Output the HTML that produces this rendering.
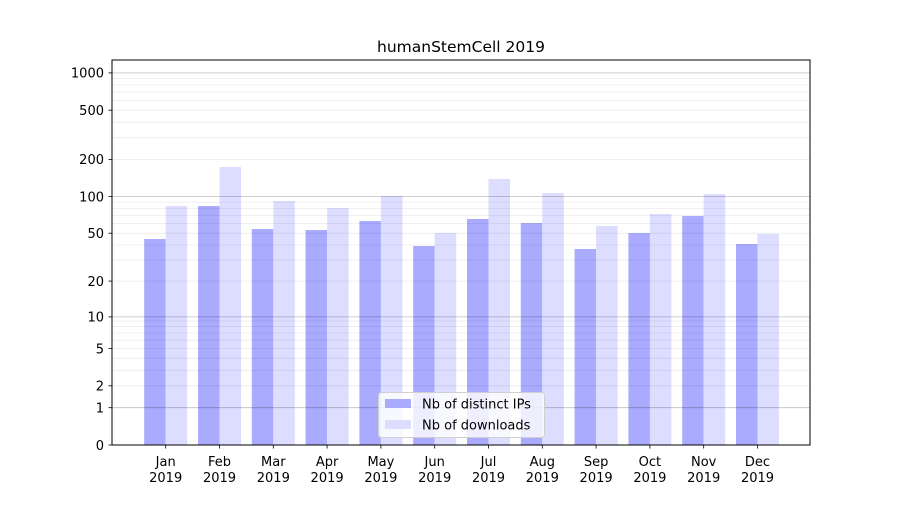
<!DOCTYPE html>
<html><head><meta charset="utf-8"><style>
body{margin:0;background:#fff}
text{font-family:"DejaVu Sans","Liberation Sans",sans-serif;font-size:13px;fill:#000}
</style></head><body>
<svg width="900" height="500" xmlns="http://www.w3.org/2000/svg">
<rect width="900" height="500" fill="#fff"/>
<g fill="#aaaaff">
<rect x="144.2" y="239" width="21.5" height="206"/>
<rect x="198" y="206" width="21.5" height="239"/>
<rect x="251.8" y="229" width="21.5" height="216"/>
<rect x="305.6" y="230" width="21.5" height="215"/>
<rect x="359.4" y="221" width="21.5" height="224"/>
<rect x="413.2" y="246" width="21.5" height="199"/>
<rect x="467" y="219" width="21.5" height="226"/>
<rect x="520.8" y="223" width="21.5" height="222"/>
<rect x="574.6" y="249" width="21.5" height="196"/>
<rect x="628.4" y="233" width="21.5" height="212"/>
<rect x="682.2" y="216" width="21.5" height="229"/>
<rect x="736" y="244" width="21.5" height="201"/>
</g>
<g fill="#ddddff">
<rect x="165.7" y="206" width="21.5" height="239"/>
<rect x="219.5" y="167" width="21.5" height="278"/>
<rect x="273.3" y="201" width="21.5" height="244"/>
<rect x="327.1" y="208" width="21.5" height="237"/>
<rect x="380.9" y="196" width="21.5" height="249"/>
<rect x="434.7" y="233" width="21.5" height="212"/>
<rect x="488.5" y="179" width="21.5" height="266"/>
<rect x="542.3" y="193" width="21.5" height="252"/>
<rect x="596.1" y="226" width="21.5" height="219"/>
<rect x="649.9" y="214" width="21.5" height="231"/>
<rect x="703.7" y="194" width="21.5" height="251"/>
<rect x="757.5" y="234" width="21.5" height="211"/>
</g>
<g stroke="#000" stroke-opacity="0.08" stroke-width="0.8">
<line x1="112" x2="810" y1="385.8" y2="385.8"/><line x1="112" x2="810" y1="370.3" y2="370.3"/><line x1="112" x2="810" y1="358.3" y2="358.3"/><line x1="112" x2="810" y1="348.5" y2="348.5"/><line x1="112" x2="810" y1="340.2" y2="340.2"/><line x1="112" x2="810" y1="333" y2="333"/><line x1="112" x2="810" y1="326.7" y2="326.7"/><line x1="112" x2="810" y1="321" y2="321"/>
<line x1="112" x2="810" y1="281.1" y2="281.1"/><line x1="112" x2="810" y1="260.1" y2="260.1"/><line x1="112" x2="810" y1="245" y2="245"/><line x1="112" x2="810" y1="233.2" y2="233.2"/><line x1="112" x2="810" y1="223.6" y2="223.6"/><line x1="112" x2="810" y1="215.4" y2="215.4"/><line x1="112" x2="810" y1="208.4" y2="208.4"/><line x1="112" x2="810" y1="202.1" y2="202.1"/>
<line x1="112" x2="810" y1="159.4" y2="159.4"/><line x1="112" x2="810" y1="137.7" y2="137.7"/><line x1="112" x2="810" y1="122.2" y2="122.2"/><line x1="112" x2="810" y1="110.2" y2="110.2"/><line x1="112" x2="810" y1="100.4" y2="100.4"/><line x1="112" x2="810" y1="92.1" y2="92.1"/><line x1="112" x2="810" y1="84.9" y2="84.9"/><line x1="112" x2="810" y1="78.6" y2="78.6"/>
</g>
<g stroke="#000" stroke-opacity="0.25" stroke-width="0.8">
<line x1="112" x2="810" y1="407.7" y2="407.7"/><line x1="112" x2="810" y1="316.9" y2="316.9"/><line x1="112" x2="810" y1="196.5" y2="196.5"/><line x1="112" x2="810" y1="72.9" y2="72.9"/>
</g>
<rect x="112" y="60" width="698" height="385" fill="none" stroke="#000" stroke-width="1"/>
<g stroke="#000" stroke-width="0.8">
<line x1="108.5" x2="112" y1="445" y2="445"/><line x1="108.5" x2="112" y1="407.7" y2="407.7"/><line x1="108.5" x2="112" y1="385.8" y2="385.8"/><line x1="108.5" x2="112" y1="348.5" y2="348.5"/><line x1="108.5" x2="112" y1="316.9" y2="316.9"/><line x1="108.5" x2="112" y1="281.1" y2="281.1"/><line x1="108.5" x2="112" y1="233.2" y2="233.2"/><line x1="108.5" x2="112" y1="196.5" y2="196.5"/><line x1="108.5" x2="112" y1="159.4" y2="159.4"/><line x1="108.5" x2="112" y1="110.2" y2="110.2"/><line x1="108.5" x2="112" y1="72.9" y2="72.9"/>
<line x1="165.7" x2="165.7" y1="445" y2="448.5"/><line x1="219.5" x2="219.5" y1="445" y2="448.5"/><line x1="273.3" x2="273.3" y1="445" y2="448.5"/><line x1="327.1" x2="327.1" y1="445" y2="448.5"/><line x1="380.9" x2="380.9" y1="445" y2="448.5"/><line x1="434.7" x2="434.7" y1="445" y2="448.5"/><line x1="488.5" x2="488.5" y1="445" y2="448.5"/><line x1="542.3" x2="542.3" y1="445" y2="448.5"/><line x1="596.1" x2="596.1" y1="445" y2="448.5"/><line x1="649.9" x2="649.9" y1="445" y2="448.5"/><line x1="703.7" x2="703.7" y1="445" y2="448.5"/><line x1="757.5" x2="757.5" y1="445" y2="448.5"/>
</g>
<g text-anchor="end">
<text x="104" y="450">0</text><text x="104" y="412.5">1</text><text x="104" y="390.5">2</text><text x="104" y="353.5">5</text><text x="104" y="321.5">10</text><text x="104" y="286">20</text><text x="104" y="238">50</text><text x="104" y="201.5">100</text><text x="104" y="164">200</text><text x="104" y="115">500</text><text x="104" y="77.5">1000</text>
</g>
<g text-anchor="middle">
<text x="165.7" y="466">Jan</text><text x="165.7" y="482">2019</text>
<text x="219.5" y="466">Feb</text><text x="219.5" y="482">2019</text>
<text x="273.3" y="466">Mar</text><text x="273.3" y="482">2019</text>
<text x="327.1" y="466">Apr</text><text x="327.1" y="482">2019</text>
<text x="380.9" y="466">May</text><text x="380.9" y="482">2019</text>
<text x="434.7" y="466">Jun</text><text x="434.7" y="482">2019</text>
<text x="488.5" y="466">Jul</text><text x="488.5" y="482">2019</text>
<text x="542.3" y="466">Aug</text><text x="542.3" y="482">2019</text>
<text x="596.1" y="466">Sep</text><text x="596.1" y="482">2019</text>
<text x="649.9" y="466">Oct</text><text x="649.9" y="482">2019</text>
<text x="703.7" y="466">Nov</text><text x="703.7" y="482">2019</text>
<text x="757.5" y="466">Dec</text><text x="757.5" y="482">2019</text>
<text x="461" y="52" style="font-size:15.5px">humanStemCell 2019</text>
</g>
<rect x="378.5" y="392.5" width="166" height="45" rx="3" fill="#fff" fill-opacity="0.8" stroke="#d0d0d0"/>
<rect x="385" y="399" width="26" height="9" fill="#aaaaff"/>
<rect x="385" y="420" width="26" height="9" fill="#ddddff"/>
<text x="422" y="408.5">Nb of distinct IPs</text>
<text x="422" y="429.5">Nb of downloads</text>
</svg>
</body></html>
